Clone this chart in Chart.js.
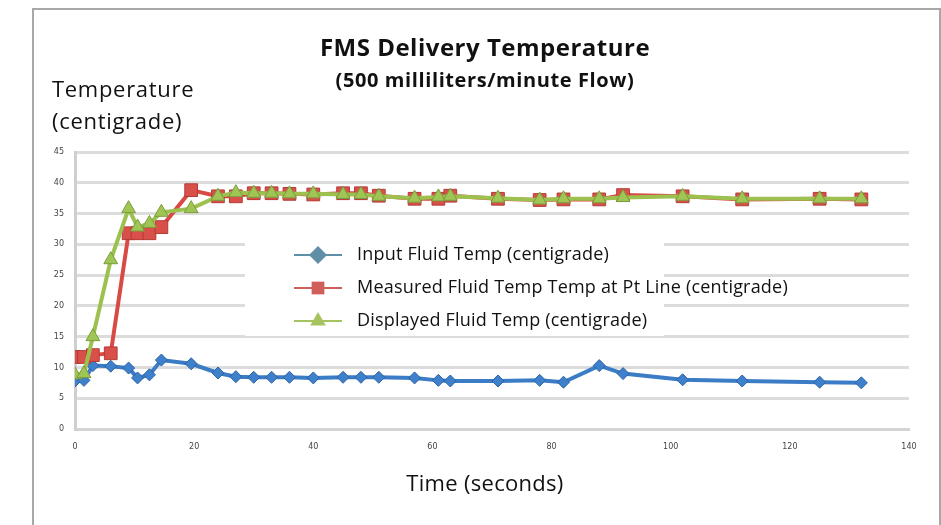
<!DOCTYPE html>
<html>
<head>
<meta charset="utf-8">
<script src="https://cdn.jsdelivr.net/npm/chart.js@4/dist/chart.umd.min.js"></script>
<style>
  body { margin: 0; background: #fff; font-family: "Open Sans", sans-serif; }
  #wrap { position: relative; width: 941px; height: 525px; overflow: hidden; }
  #frame { position: absolute; left: 32px; top: 8px; width: 905px; height: 530px; border: 2px solid #a8a8a8; }
  canvas { position: absolute; left: 0; top: 0; }
  .txt { position: absolute; color: #111; white-space: nowrap; }
  #title { left: 235px; width: 500px; top: 30px; text-align: center; font-weight: bold; font-size: 24px; letter-spacing: 0.5px; }
  #subtitle { left: 235px; width: 500px; top: 66px; text-align: center; font-weight: bold; font-size: 20px; letter-spacing: 0.6px; }
  #ytitle { left: 52px; top: 72px; font-size: 22px; line-height: 32px; letter-spacing: 0.7px; }
  #xtitle { left: 235px; width: 500px; top: 467px; text-align: center; font-size: 22px; letter-spacing: 0.3px; }
</style>
</head>
<body>
<div id="wrap">
  <div id="frame"></div>
  <canvas id="tempChart" width="941" height="525"></canvas>
  <div class="txt" id="title">FMS Delivery Temperature</div>
  <div class="txt" id="subtitle">(500 milliliters/minute Flow)</div>
  <div class="txt" id="ytitle">Temperature<br>(centigrade)</div>
  <div class="txt" id="xtitle">Time (seconds)</div>
</div>
<script>
// Data
const timeSec = [0, 1.5, 3, 6, 9, 10.5, 12.5, 14.5, 19.5, 24, 27, 30, 33, 36, 40, 45, 48, 51, 57, 61, 63, 71, 78, 82, 88, 92, 102, 112, 125, 132];
const inputTemp = [7.8, 7.9, 10.3, 10.2, 9.9, 8.3, 8.8, 11.2, 10.6, 9.1, 8.5, 8.4, 8.4, 8.4, 8.3, 8.4, 8.4, 8.4, 8.3, 7.9, 7.8, 7.8, 7.9, 7.6, 10.3, 9.0, 8.0, 7.8, 7.6, 7.5];
const measuredTemp = [11.7, 11.7, 12.0, 12.3, 31.8, 31.8, 31.8, 32.8, 38.8, 37.8, 37.8, 38.3, 38.3, 38.2, 38.1, 38.3, 38.3, 37.9, 37.4, 37.4, 37.9, 37.4, 37.2, 37.3, 37.3, 38.0, 37.8, 37.3, 37.4, 37.3];
const displayedTemp = [8.8, 9.0, 15.0, 27.5, 35.8, 32.8, 33.4, 35.2, 35.8, 37.8, 38.4, 38.3, 38.3, 38.2, 38.2, 38.1, 38.1, 37.8, 37.5, 37.7, 37.8, 37.5, 37.2, 37.4, 37.4, 37.6, 37.8, 37.4, 37.4, 37.4];
const seriesNames = ['Input Fluid Temp (centigrade)', 'Measured Fluid Temp Temp at Pt Line (centigrade)', 'Displayed Fluid Temp (centigrade)'];
const xTicks = [0, 20, 40, 60, 80, 100, 120, 140];
const yTicks = [0, 5, 10, 15, 20, 25, 30, 35, 40, 45];

function toPoints(values) {
    return values.map((v, i) => ({ x: timeSec[i], y: v }));
}

// Legend drawn inside the plot on a white box, like the original
const boxLegend = {
    id: 'boxLegend',
    afterDatasetsDraw(chart) {
        const ctx = chart.ctx;
        const legendColors = ['#5e8fa6', '#cf5f58', '#a6c35f'];
        const styles = ['rectRot', 'rect', 'triangle'];
        const rows = [255, 288, 321];
        ctx.save();
        ctx.fillStyle = '#ffffff';
        ctx.fillRect(245, 234, 419, 102);
        for (let i = 0; i < 3; i++) {
            ctx.strokeStyle = legendColors[i];
            ctx.lineWidth = 2;
            ctx.beginPath();
            ctx.moveTo(294, rows[i]);
            ctx.lineTo(342, rows[i]);
            ctx.stroke();
            ctx.fillStyle = legendColors[i];
            Chart.helpers.drawPoint(ctx, { pointStyle: styles[i], radius: 9, rotation: 0, borderWidth: 0 }, 318, rows[i]);
            ctx.fillStyle = '#111';
            ctx.font = '18px "Open Sans"';
            ctx.letterSpacing = '0.2px';
            ctx.textBaseline = 'middle';
            ctx.fillText(seriesNames[i], 357, rows[i]);
        }
        ctx.restore();
    }
};

new Chart(document.getElementById('tempChart').getContext('2d'), {
    type: 'scatter',
    data: {
        datasets: [{
            label: seriesNames[0],
            data: toPoints(inputTemp),
            showLine: true,
            borderColor: '#3b7cc6',
            borderWidth: 4,
            pointStyle: 'rectRot',
            pointRadius: 6,
            pointBackgroundColor: '#3e80cb',
            pointBorderColor: '#2d63a3',
            pointBorderWidth: 1,
            order: 3
        }, {
            label: seriesNames[1],
            data: toPoints(measuredTemp),
            showLine: true,
            borderColor: '#d94a45',
            borderWidth: 4,
            pointStyle: 'rect',
            pointRadius: 9,
            pointBackgroundColor: '#d9504a',
            pointBorderColor: '#b43a35',
            pointBorderWidth: 1,
            order: 2
        }, {
            label: seriesNames[2],
            data: toPoints(displayedTemp),
            showLine: true,
            borderColor: '#9cc14f',
            borderWidth: 4,
            pointStyle: 'triangle',
            pointRadius: 8,
            pointBackgroundColor: '#9fc555',
            pointBorderColor: '#7c9c3c',
            pointBorderWidth: 1,
            order: 1
        }]
    },
    options: {
        responsive: false,
        animation: false,
        layout: { padding: { left: 35, right: 32, top: 152, bottom: 66 } },
        plugins: {
            legend: { display: false },
            tooltip: { enabled: false }
        },
        scales: {
            x: {
                type: 'linear',
                min: 0,
                max: 140,
                afterFit: s => { s.height = 30; },
                afterBuildTicks: s => { s.ticks = xTicks.map(v => ({ value: v })); },
                grid: { display: false, drawTicks: false },
                border: { display: true, color: '#d4d4d4', width: 3 },
                ticks: { padding: 13, color: '#444', font: { family: 'DejaVu Sans', size: 8 } }
            },
            y: {
                min: 0,
                max: 45,
                afterFit: s => { s.width = 40; },
                afterBuildTicks: s => { s.ticks = yTicks.map(v => ({ value: v })); },
                grid: { color: '#dcdcdc', lineWidth: 3, drawTicks: false },
                border: { display: true, color: '#cfcfcf', width: 3 },
                ticks: { padding: 11, color: '#444', font: { family: 'DejaVu Sans', size: 8 } }
            }
        }
    },
    plugins: [boxLegend]
});
</script>
</body>
</html>
